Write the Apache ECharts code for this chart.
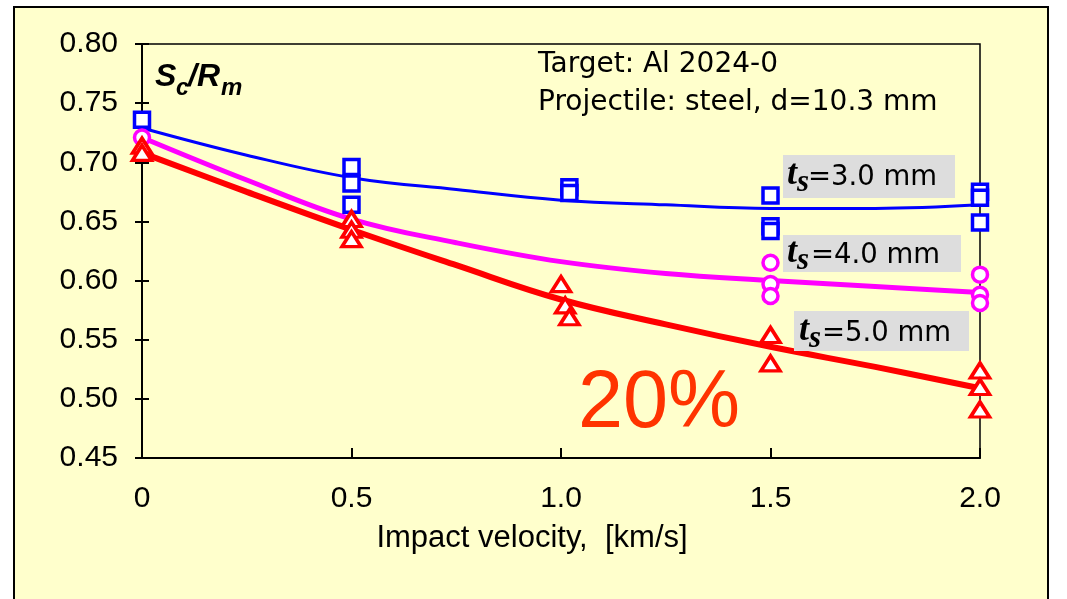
<!DOCTYPE html>
<html>
<head>
<meta charset="utf-8">
<script src="https://cdn.jsdelivr.net/npm/echarts@6/dist/echarts.min.js"></script>
<style>
html,body{margin:0;padding:0;background:#ffffff;}
#c{width:1067px;height:599px;}
</style>
</head>
<body>
<div id="c"></div>
<script>
// ---- data ----
const xTickValues = [0, 0.5, 1.0, 1.5, 2.0];
const yTickValues = [0.45, 0.50, 0.55, 0.60, 0.65, 0.70, 0.75, 0.80];

// measured points, ts = 3.0 mm (squares)
const v3 = [0, 0.5, 0.5, 0.5, 1.02, 1.02, 1.5, 1.5, 1.5, 2.0, 2.0, 2.0];
const s3 = [0.736, 0.696, 0.682, 0.664, 0.679, 0.674, 0.672, 0.646, 0.642, 0.675, 0.670, 0.649];
// ts = 4.0 mm (circles)
const v4 = [0, 1.5, 1.5, 1.5, 2.0, 2.0, 2.0];
const s4 = [0.721, 0.615, 0.597, 0.587, 0.605, 0.588, 0.581];
// ts = 5.0 mm (triangles)
const v5 = [0, 0, 0.5, 0.5, 0.5, 1.0, 1.01, 1.02, 1.5, 1.5, 2.0, 2.0, 2.0];
const s5 = [0.714, 0.708, 0.652, 0.643, 0.635, 0.597, 0.579, 0.569, 0.554, 0.530, 0.524, 0.510, 0.491];

// trend curves
const fitV = [0, 0.25, 0.5, 0.75, 1.0, 1.25, 1.5, 1.75, 2.0];
const fit3 = [0.729, 0.706, 0.687, 0.677, 0.668, 0.664, 0.661, 0.661, 0.664];
const fit4 = [0.721, 0.685, 0.652, 0.632, 0.616, 0.606, 0.600, 0.595, 0.590];
const fit5 = [0.708, 0.675, 0.643, 0.613, 0.584, 0.563, 0.544, 0.527, 0.509];

const yTitleMain = ['S', '/R'];
const yTitleSub = ['c', 'm'];
const infoLines = ['Target: Al 2024-0', 'Projectile: steel, d=10.3 mm'];
const seriesLabels = ['=3.0 mm', '=4.0 mm', '=5.0 mm'];
const bigNote = '20%';
const xName = 'Impact velocity,  [km/s]';

// ---- build ----
const zip = (xs, ys) => xs.map((x, i) => [x, ys[i]]);
const SANS = '"Liberation Sans", Arial, sans-serif';
const TAHOMA = '"DejaVu Sans", sans-serif';
const SERIF = '"Liberation Serif", "Times New Roman", serif';

function txt(text, x, baseline, size, font, weight, fill, extra) {
  return Object.assign({
    type: 'text', x: x, y: baseline - 0.35 * size, z: 50,
    style: {
      text: text, font: (weight || '') + ' ' + size + 'px ' + font,
      fill: fill || '#000', textAlign: 'left', textVerticalAlign: 'middle'
    }
  }, extra || {});
}
function tsLabel(boxX, boxY, boxW, boxH, tx, base, eqX, label) {
  return [
    { type: 'rect', z: 40, shape: { x: boxX, y: boxY, width: boxW, height: boxH }, style: { fill: '#DDDDDD' } },
    txt('t', tx, base, 36, SERIF, 'italic bold'),
    txt('s', tx + 10, base + 7, 31, SERIF, 'italic bold'),
    txt(label, eqX, base, 27.5, TAHOMA, '')
  ];
}

const graphics = [
  { type: 'rect', z: -100, shape: { x: 14, y: 7, width: 1034, height: 640 },
    style: { fill: '#FFFFCC', stroke: '#000', lineWidth: 2 } },
  txt(yTitleMain[0], 155, 88, 32, SANS, 'italic bold'),
  txt(yTitleSub[0], 176, 97, 23, SANS, 'italic bold'),
  txt(yTitleMain[1], 188, 88, 32, SANS, 'italic bold'),
  txt(yTitleSub[1], 221, 97, 24, SANS, 'italic bold'),
  txt(infoLines[0], 538, 75, 28, TAHOMA, ''),
  txt(infoLines[1], 538, 113, 28, TAHOMA, ''),
  txt(bigNote, 578, 433, 81, SANS, '', '#FF3300')
].concat(
  tsLabel(783, 155, 172, 43, 787, 187, 808, seriesLabels[0]),
  tsLabel(783, 235, 178, 37, 787, 265, 811, seriesLabels[1]),
  tsLabel(794, 311, 175, 40, 799, 343, 822, seriesLabels[2])
);

const chart = echarts.init(document.getElementById('c'), null, { renderer: 'canvas' });
chart.setOption({
  backgroundColor: 'transparent',
  animation: false,
  graphic: graphics,
  grid: { left: 142, right: 87, top: 44, bottom: 141, show: true, borderColor: '#000', borderWidth: 1.5, backgroundColor: 'transparent' },
  xAxis: {
    type: 'value', min: 0, max: 2.0, interval: 0.5,
    name: xName, nameLocation: 'middle', nameGap: 65,
    nameTextStyle: { fontFamily: SANS, fontSize: 31, color: '#000', padding: [0, 58, 0, 0] },
    axisLine: { lineStyle: { color: '#000', width: 2 } },
    axisTick: { inside: true, length: 10, lineStyle: { color: '#000', width: 2 } },
    splitLine: { show: false },
    axisLabel: {
      margin: 26, fontFamily: SANS, fontSize: 30, color: '#000',
      formatter: v => (xTickValues.indexOf(v) === 0 ? '0' : v.toFixed(1))
    }
  },
  yAxis: [{
    type: 'value', min: 0.45, max: 0.80, interval: 0.05,
    axisLine: { show: true, lineStyle: { color: '#000', width: 2 } },
    axisTick: { show: true, length: 7, lineStyle: { color: '#000', width: 2 } },
    splitLine: { show: false },
    axisLabel: { margin: 24, fontFamily: SANS, fontSize: 30, color: '#000', padding: [8, 0, 0, 0],
      formatter: v => v.toFixed(2) }
  }, {
    type: 'value', min: 0.45, max: 0.80, interval: 0.05, position: 'left',
    axisLine: { show: false },
    axisTick: { show: true, inside: true, length: 7, lineStyle: { color: '#000', width: 2 } },
    splitLine: { show: false },
    axisLabel: { show: false }
  }],
  series: [
    { type: 'line', name: 'fit 3.0', data: zip(fitV, fit3), smooth: 0.4, showSymbol: false, symbol: 'none',
      lineStyle: { color: '#0000FF', width: 3 }, z: 2, silent: true },
    { type: 'line', name: 'fit 4.0', data: zip(fitV, fit4), smooth: 0.4, showSymbol: false, symbol: 'none',
      lineStyle: { color: '#FF00FF', width: 5 }, z: 2, silent: true },
    { type: 'line', name: 'fit 5.0', data: zip(fitV, fit5), smooth: 0.4, showSymbol: false, symbol: 'none',
      lineStyle: { color: '#FF0000', width: 6 }, z: 2, silent: true },
    { type: 'scatter', name: 'ts=3.0', data: zip(v3, s3), symbol: 'rect', symbolSize: 15,
      itemStyle: { color: '#FFFFFF', borderColor: '#0000FF', borderWidth: 3.5, opacity: 1 }, z: 5 },
    { type: 'scatter', name: 'ts=4.0', data: zip(v4, s4), symbol: 'circle', symbolSize: 15,
      itemStyle: { color: '#FFFFFF', borderColor: '#FF00FF', borderWidth: 3.5, opacity: 1 }, z: 5 },
    { type: 'scatter', name: 'ts=5.0', data: zip(v5, s5), symbol: 'triangle', symbolSize: [19, 15],
      itemStyle: { color: '#FFFFFF', borderColor: '#FF0000', borderWidth: 3.5, opacity: 1 }, z: 5 }
  ]
});
</script>
</body>
</html>
